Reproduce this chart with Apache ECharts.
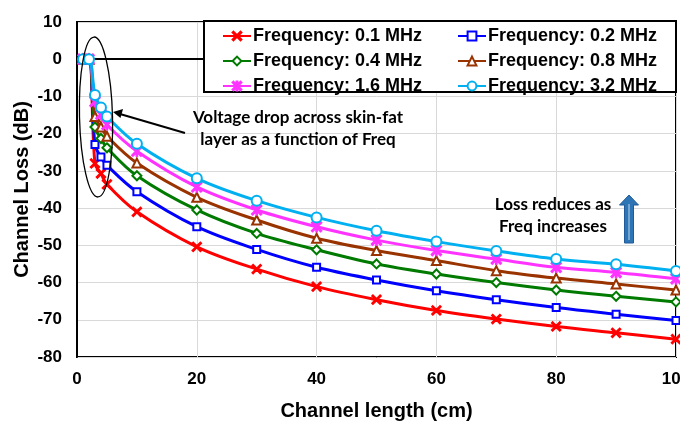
<!DOCTYPE html>
<html>
<head>
<meta charset="utf-8">
<script src="https://cdn.jsdelivr.net/npm/echarts@6/dist/echarts.min.js"></script>
<style>html,body{margin:0;padding:0;background:#fff;}#c{width:680px;height:422px;}</style>
</head>
<body>
<div id="c"></div>
<script>
const lengths = [1, 2, 3, 4, 5, 10, 20, 30, 40, 50, 60, 70, 80, 90, 100];
const names = ['Frequency: 0.1 MHz', 'Frequency: 0.2 MHz', 'Frequency: 0.4 MHz', 'Frequency: 0.8 MHz', 'Frequency: 1.6 MHz', 'Frequency: 3.2 MHz'];
const f01 = [0, 0, -28.0, -30.7, -33.6, -41.0, -50.4, -56.4, -61.1, -64.6, -67.5, -69.8, -71.8, -73.5, -75.2];
const f02 = [0, 0, -22.9, -26.3, -28.5, -35.6, -45.0, -51.1, -55.9, -59.3, -62.2, -64.6, -66.7, -68.5, -70.2];
const f04 = [0, 0, -18.2, -21.3, -23.8, -31.3, -40.5, -46.8, -51.2, -55.0, -57.7, -60.0, -62.0, -63.7, -65.2];
const f08 = [0, 0, -15.4, -18.2, -20.7, -27.9, -37.1, -43.2, -48.1, -51.4, -54.1, -56.8, -58.8, -60.4, -62.0];
const f16 = [0, 0, -11.4, -14.8, -17.6, -24.7, -34.3, -40.5, -45.0, -48.6, -51.4, -53.7, -55.9, -57.3, -59.0];
const f32 = [0, 0, -9.6, -13.0, -15.4, -22.7, -32.0, -38.0, -42.5, -46.1, -49.0, -51.5, -53.7, -55.1, -56.9];
const xTicks = [0, 20, 40, 60, 80, 100];
const yTicks = [-80, -70, -60, -50, -40, -30, -20, -10, 0, 10];

const values = [f01, f02, f04, f08, f16, f32];
const colors = ['#FF0000', '#0000FF', '#007A00', '#993300', '#FF33FF', '#00B0F0'];
const X = 'path://M1,0 L5,4 L9,0 L10,1 L6,5 L10,9 L9,10 L5,6 L1,10 L0,9 L4,5 L0,1 Z';
const STAR = 'path://M1,0 L5,4 L9,0 L10,1 L6,5 L10,9 L9,10 L5,6 L1,10 L0,9 L4,5 L0,1 Z M4.5,0 L5.5,0 L5.5,10 L4.5,10 Z';
const symbols = [X, 'emptyRect', 'emptyDiamond', 'emptyTriangle', STAR, 'emptyCircle'];
const sizes = [9, 7, 9, 9, 10, 10];

const FONT = '"Liberation Sans", Arial, sans-serif';
const NOTE = 'Lato, "Open Sans", sans-serif';

const series = names.map((n, i) => ({
  name: n,
  type: 'line',
  data: lengths.map((x, j) => [x, values[i][j]]),
  smooth: 0.35,
  symbol: symbols[i],
  symbolSize: sizes[i],
  lineStyle: { color: colors[i], width: 3 },
  itemStyle: { color: colors[i], borderColor: colors[i], borderWidth: 1.6 },
  z: 2 + i
}));

const chart = echarts.init(document.getElementById('c'), null, { renderer: 'canvas' });
chart.setOption({
  backgroundColor: '#fff',
  animation: false,
  grid: { left: 77, right: 4, top: 22, bottom: 65, outerBoundsMode: 'none', containLabel: false, show: true, borderColor: '#000', borderWidth: 2, backgroundColor: 'transparent' },
  xAxis: {
    type: 'value', min: xTicks[0], max: xTicks[xTicks.length - 1], interval: 20,
    name: 'Channel length (cm)', nameLocation: 'middle', nameGap: 44, nameMoveOverlap: false,
    nameTextStyle: { fontFamily: FONT, fontWeight: 'bold', fontSize: 20, color: '#000' },
    axisLine: { show: true, lineStyle: { color: '#000', width: 2 } },
    axisTick: { show: false },
    axisLabel: { fontFamily: FONT, fontWeight: 'bold', fontSize: 17, color: '#000', margin: 14, hideOverlap: false },
    splitLine: { show: true, lineStyle: { color: '#D9D9D9', width: 1 } }
  },
  yAxis: {
    type: 'value', min: yTicks[0], max: yTicks[yTicks.length - 1], interval: 10,
    name: 'Channel Loss (dB)', nameLocation: 'middle', nameGap: 45, nameRotate: 90, nameMoveOverlap: false,
    nameTextStyle: { fontFamily: FONT, fontWeight: 'bold', fontSize: 20, color: '#000' },
    axisLine: { show: true, lineStyle: { color: '#000', width: 2 } },
    axisTick: { show: false },
    axisLabel: { fontFamily: FONT, fontWeight: 'bold', fontSize: 17, color: '#000', margin: 15 },
    splitLine: { show: true, lineStyle: { color: '#D9D9D9', width: 1 } }
  },
  legend: [
    {
      data: [names[0], names[2], names[4]], orient: 'vertical', left: 217, top: 22,
      itemWidth: 28, itemHeight: 11, itemGap: 7, z: 20,
      textStyle: { fontFamily: FONT, fontWeight: 'bold', fontSize: 18, color: '#000', padding: [0, 0, 0, -3] }
    },
    {
      data: [names[1], names[3], names[5]], orient: 'vertical', left: 452, top: 22,
      itemWidth: 28, itemHeight: 11, itemGap: 7, z: 20,
      textStyle: { fontFamily: FONT, fontWeight: 'bold', fontSize: 18, color: '#000', padding: [0, 0, 0, -3] }
    }
  ],
  graphic: [
    { type: 'rect', z: 15, shape: { x: 204, y: 21, width: 472, height: 71 }, style: { fill: '#fff', stroke: '#000', lineWidth: 2 } },
    { type: 'ellipse', z: 15, shape: { cx: 96, cy: 117, rx: 16.5, ry: 80 }, rotation: 0.025, originX: 96, originY: 117, style: { fill: null, stroke: '#000', lineWidth: 1.3 } },
    { type: 'line', z: 15, shape: { x1: 185, y1: 133, x2: 120, y2: 114 }, style: { stroke: '#000', lineWidth: 2 } },
    { type: 'polygon', z: 15, shape: { points: [[113, 112], [123, 109], [120.5, 118]] }, style: { fill: '#000' } },
    { type: 'text', z: 15, style: { x: 298, y: 107, text: 'Voltage drop across skin-fat\nlayer as a function of Freq', fontFamily: NOTE, fontWeight: 'bold', fontSize: 17, lineHeight: 22, fill: '#000', align: 'center', verticalAlign: 'top' } },
    { type: 'text', z: 15, style: { x: 553, y: 194, text: 'Loss reduces as\nFreq increases', fontFamily: NOTE, fontWeight: 'bold', fontSize: 17, lineHeight: 22, fill: '#000', align: 'center', verticalAlign: 'top' } },
    { type: 'polygon', z: 15, shape: { points: [[629, 195], [638.5, 205], [633.5, 205], [633.5, 243], [624.5, 243], [624.5, 205], [619.5, 205]] }, style: { fill: '#2E75B6', stroke: '#1F5C99', lineWidth: 1 } },
    { type: 'line', z: 16, shape: { x1: 629, y1: 204, x2: 629, y2: 240 }, style: { stroke: '#BDD7EE', lineWidth: 1 } }
  ],
  series: series
});
</script>
</body>
</html>
